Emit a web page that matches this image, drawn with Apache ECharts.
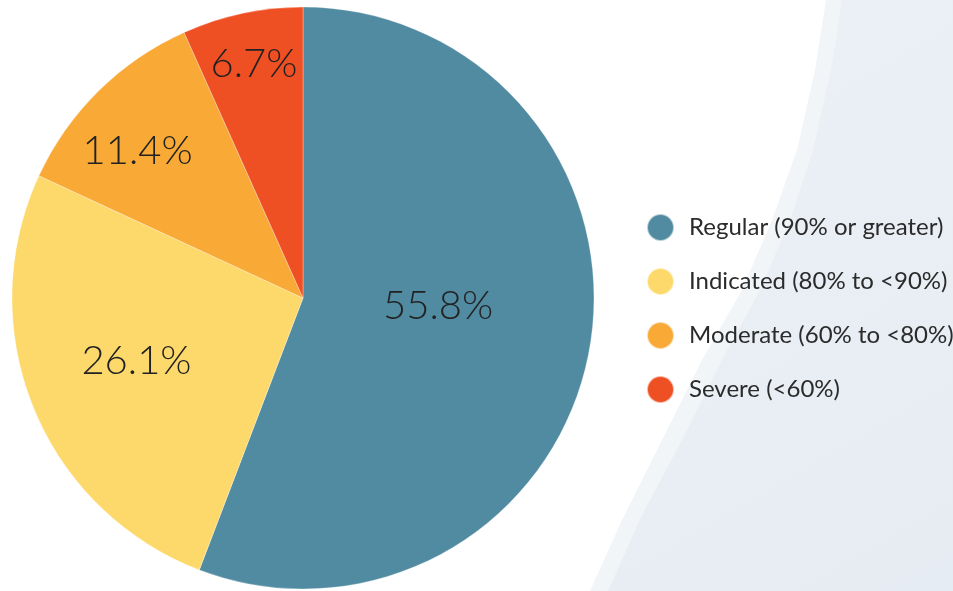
<!DOCTYPE html>
<html>
<head>
<meta charset="utf-8">
<script src="https://cdn.jsdelivr.net/npm/echarts@6/dist/echarts.min.js"></script>
<style>
  html, body { margin: 0; padding: 0; background: #ffffff; }
  #chart { width: 953px; height: 591px; }
</style>
</head>
<body>
<div id="chart"></div>
<script>
const categories = [
  "Regular (90% or greater)",
  "Indicated (80% to <90%)",
  "Moderate (60% to <80%)",
  "Severe (<60%)",
];
const shares = [55.8, 26.1, 11.4, 6.7];
const colors = ["#518ba1", "#fdd96b", "#f9a935", "#ef5023"];

// label nudges away from the default inside spot, to sit where the original has them
const labelOffsets = [[-11, -19], [-29, 7], [-61, -41], [-18, -89]];

const chart = echarts.init(document.getElementById("chart"));

chart.setOption({
  animation: false,
  backgroundColor: "#ffffff",
  graphic: [
    {
      type: "polygon",
      silent: true,
      z: -10,
      shape: {
        points: [[826, 0], [953, 0], [953, 591], [590, 591], [622, 520], [662, 440],
          [702, 360], [742, 290], [772, 220], [797, 150], [815, 70]],
      },
      style: { fill: "#f2f5f8" },
    },
    {
      type: "polygon",
      silent: true,
      z: -9,
      shape: {
        points: [[842, 0], [953, 0], [953, 591], [608, 591], [642, 515], [682, 440],
          [722, 360], [760, 290], [790, 220], [813, 150], [831, 70]],
      },
      style: {
        fill: new echarts.graphic.LinearGradient(0, 0, 1, 1, [
          { offset: 0, color: "#edf1f6" },
          { offset: 1, color: "#e6ecf3" },
        ]),
      },
    },
  ],
  legend: {
    orient: "vertical",
    left: 641,
    top: 208,
    itemWidth: 27,
    itemHeight: 27,
    itemGap: 25,
    icon: "circle",
    data: categories,
    textStyle: {
      fontFamily: "Lato",
      fontSize: 24,
      lineHeight: 27,
      color: "#2b2b2b",
      padding: [0, 0, 0, 10],
    },
  },
  series: [
    {
      type: "pie",
      center: [303, 298],
      radius: [0, 291],
      startAngle: 90,
      clockwise: true,
      avoidLabelOverlap: false,
      silent: true,
      itemStyle: { borderColor: "rgba(255,255,255,0.6)", borderWidth: 0.5 },
      label: {
        show: true,
        position: "inside",
        fontFamily: "Lato",
        fontWeight: 300,
        fontSize: 40,
        color: "#222222",
        formatter: (p) => p.value.toFixed(1) + "%",
      },
      labelLine: { show: false },
      data: categories.map((name, i) => ({
        name,
        value: shares[i],
        itemStyle: { color: colors[i] },
        label: { offset: labelOffsets[i] },
      })),
    },
  ],
});
</script>
</body>
</html>
